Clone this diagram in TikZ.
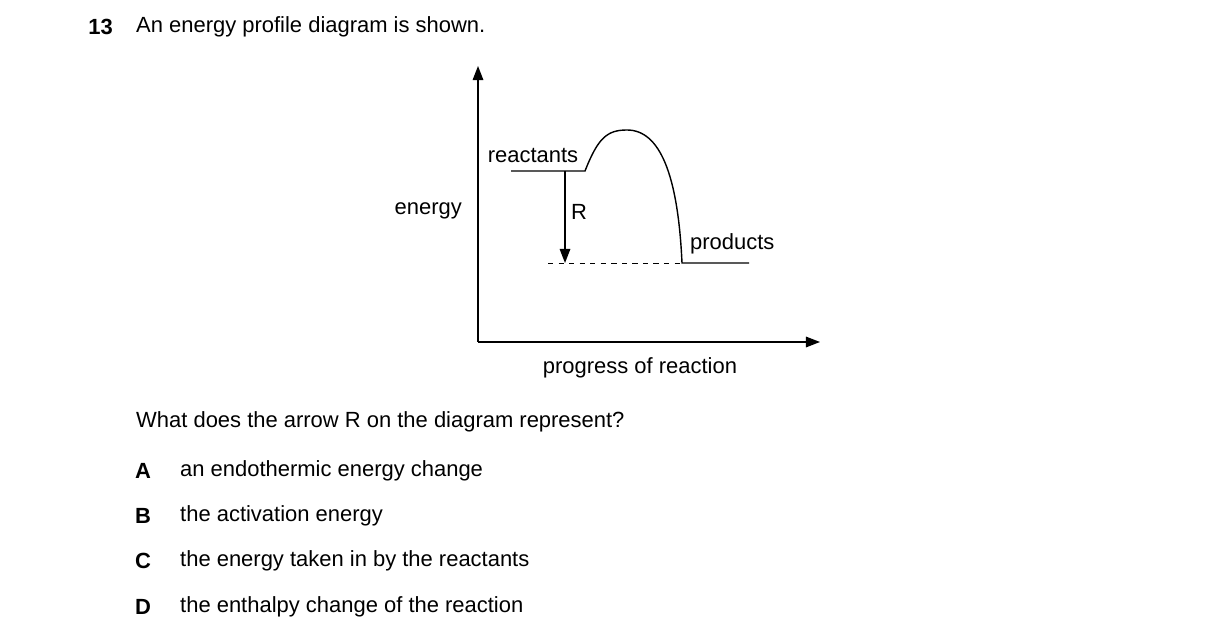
\documentclass[tikz,border=0pt]{standalone}
\usepackage{fontspec}
\setmainfont{Liberation Sans}
\usetikzlibrary{arrows.meta}
\begin{document}
\begin{tikzpicture}[x=0.02cm, y=-0.02cm, every node/.style={font=\fontsize{12.5}{15}\selectfont},
    axis/.style={thick, -{Triangle[length=8pt, width=6pt]}},
    level/.style={thick},
    opt/.style={anchor=west}]
    \useasboundingbox (0,0) rectangle (1216,644);
    % Question header
    \node[anchor=east, font=\fontsize{12.5}{15}\selectfont\bfseries] (num) at (119,27) {13};
    \node[opt] (intro) at (130,27) {An energy profile diagram is shown.};

    % Axes
    \coordinate (origin) at (478,342);
    \coordinate (ytop) at (478,66);
    \coordinate (xend) at (820,342);
    \draw[axis] (origin) -- (ytop);
    \draw[axis] (origin) -- (xend);
    \node[anchor=east] (elabel) at (468,211) {energy};
    \node (plabel) at (640,368) {progress of reaction};

    % Profile
    \coordinate (rs) at (511,171);
    \coordinate (re) at (585,171);
    \coordinate (peak) at (627,130);
    \coordinate (pe) at (682,263);
    \coordinate (pf) at (749,263);
    \draw[level] (rs) -- (re) .. controls (598,138) and (607,130) .. (peak)
        .. controls (660,130) and (678,175) .. (pe) -- (pf);
    \node (rlabel) at (533,156) {reactants};
    \node[anchor=west] (prlabel) at (684,244) {products};

    % Arrow R
    \coordinate (rtop) at (565,171);
    \coordinate (rbot) at (565,263);
    \coordinate (dstart) at (548,263);
    \draw[dashed] (dstart) -- (pe);
    \draw[thick, -{Triangle[length=8pt, width=6pt]}] (rtop) -- (rbot);
    \node (R) at (579,212) {R};

    % Question and options
    \node[opt] (q) at (130,422) {What does the arrow R on the diagram represent?};
    \foreach \l/\t/\y in {A/an endothermic energy change/471,
                          B/the activation energy/516,
                          C/the energy taken in by the reactants/561,
                          D/the enthalpy change of the reaction/607} {
        \node[font=\fontsize{12.5}{15}\selectfont\bfseries] (l\l) at (143,\y) {\l};
        \node[opt] (t\l) at (174,\y) {\t};
    }
\end{tikzpicture}
\end{document}
